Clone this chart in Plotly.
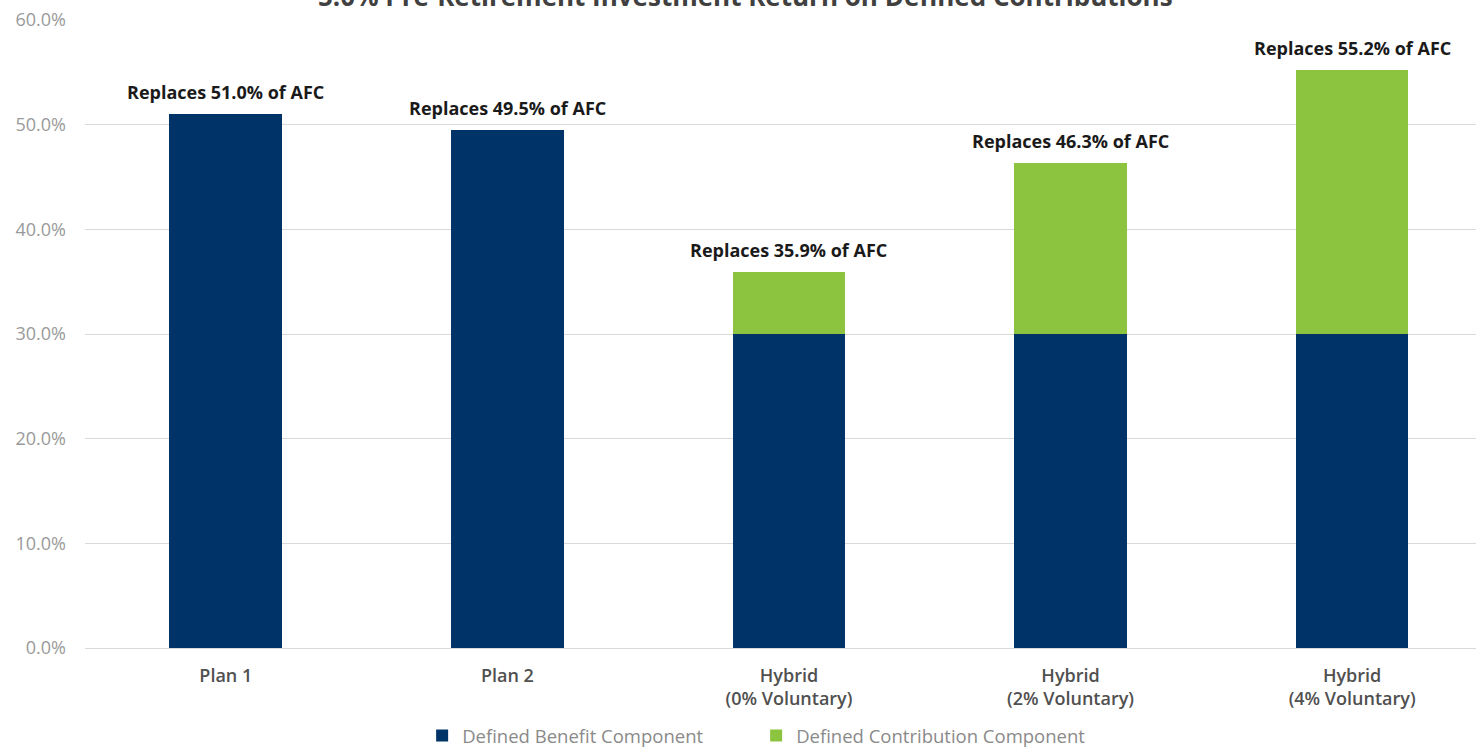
import plotly.graph_objects as go

categories = ["Plan 1", "Plan 2", "Hybrid<br>(0% Voluntary)", "Hybrid<br>(2% Voluntary)", "Hybrid<br>(4% Voluntary)"]
db_values = [51.0, 49.5, 30.0, 30.0, 30.0]
dc_values = [0.0, 0.0, 5.9, 16.3, 25.2]
totals = [51.0, 49.5, 35.9, 46.3, 55.2]
y_ticks = [0, 10, 20, 30, 40, 50, 60]
title_text = "5.0% Pre-Retirement Investment Return on Defined Contributions"

NAVY = "#003468"
GREEN = "#8cc43f"
FONT = "Open Sans, Lato, sans-serif"

fig = go.Figure()
fig.add_trace(go.Bar(x=categories, y=db_values, name="Defined Benefit Component",
                     marker=dict(color=NAVY, line=dict(width=0)), width=0.4))
fig.add_trace(go.Bar(x=categories, y=dc_values, name="Defined Contribution Component",
                     marker=dict(color=GREEN, line=dict(width=0)), width=0.4))

for c, t in zip(categories, totals):
    fig.add_annotation(x=c, y=t, text=f"<b>Replaces {t:.1f}% of AFC</b>", showarrow=False,
                       yanchor="bottom", yshift=8,
                       font=dict(family=FONT, size=18, color="#1a1a1a"))

fig.add_annotation(xref="paper", yref="paper", x=0.475, y=1, yshift=24, yanchor="middle",
                   text=f"<b>{title_text}</b>", showarrow=False,
                   font=dict(family=FONT, size=26, color="#404040"))

fig.update_layout(
    barmode="stack",
    width=1476, height=747,
    margin=dict(l=85, r=0, t=20, b=99, autoexpand=False),
    plot_bgcolor="white", paper_bgcolor="white",
    font=dict(family=FONT, color="#595959"),
    showlegend=True,
    legend=dict(orientation="h", xref="container", yref="container",
                x=0.286, xanchor="left", y=0.0147, yanchor="middle",
                font=dict(size=18.5, color="#8a8a8a"), itemwidth=30,
                entrywidth=289, entrywidthmode="pixels",
                traceorder="normal"),
    hovermode=False,
)
fig.update_xaxes(type="category", range=[-0.5, 4.44], showgrid=False, showline=False,
                 ticks="", tickfont=dict(size=18, color="#505050", weight=600),
                 ticklabelstandoff=15)
fig.update_yaxes(range=[0, 60], tickvals=y_ticks, ticktext=[f"{v:.1f}%" for v in y_ticks],
                 showgrid=True, gridcolor="#d9d9d9", gridwidth=1, zeroline=True,
                 zerolinecolor="#d9d9d9", zerolinewidth=1, showline=False,
                 tickfont=dict(size=18, color="#9a9a9a"), ticks="", ticklabelstandoff=18)

fig.write_html("out.html")
